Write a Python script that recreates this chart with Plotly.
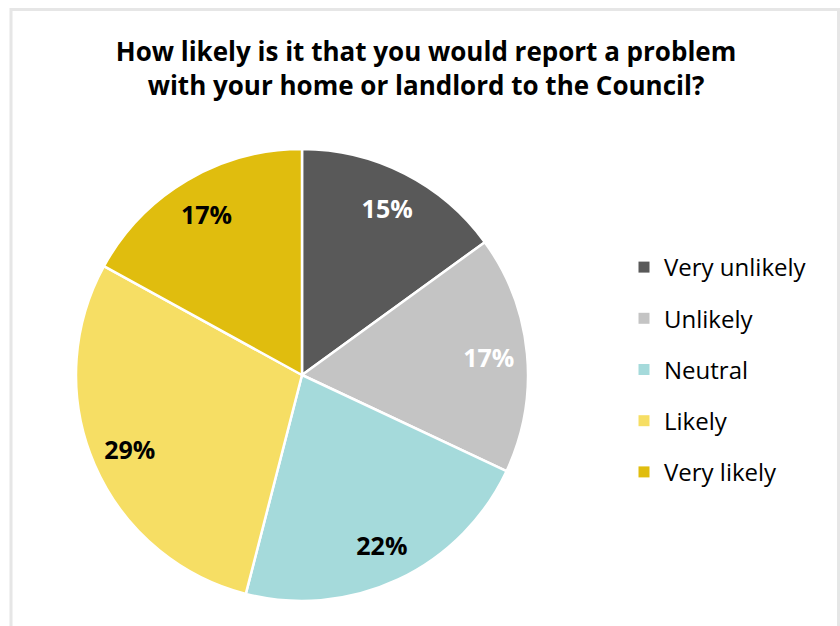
import plotly.graph_objects as go

categories = ["Very unlikely", "Unlikely", "Neutral", "Likely", "Very likely"]
values = [15, 17, 22, 29, 17]
colors = ["#595959", "#C4C4C4", "#A5DADB", "#F6DE64", "#E0BD0E"]
label_colors = ["#FFFFFF", "#FFFFFF", "#000000", "#000000", "#000000"]
title_text = "How likely is it that you would report a problem<br>with your home or landlord to the Council?"

W, H = 840, 626
cx, cy, r = 302, 375, 226
domain = dict(x=[(cx - r) / W, (cx + r) / W], y=[(H - cy - r) / H, (H - cy + r) / H])

fig = go.Figure()
# slices
fig.add_trace(go.Pie(
    labels=categories,
    values=values,
    sort=False,
    direction="clockwise",
    rotation=0,
    marker=dict(colors=colors, line=dict(color="#FFFFFF", width=2.5)),
    textinfo="none",
    showlegend=False,
    domain=domain,
    hoverinfo="label+percent",
))
# percentage labels placed in an outer ring of the same pie
fig.add_trace(go.Pie(
    labels=categories,
    values=values,
    sort=False,
    direction="clockwise",
    rotation=0,
    hole=0.66,
    marker=dict(colors=["rgba(0,0,0,0)"] * len(values), line=dict(width=0)),
    texttemplate="%{percent:.0%}",
    textposition="inside",
    insidetextorientation="horizontal",
    insidetextfont=dict(family="Open Sans", size=25, color=label_colors, weight="bold"),
    showlegend=False,
    domain=domain,
    hoverinfo="skip",
))

for c, col in zip(categories, colors):
    fig.add_trace(go.Scatter(
        x=[None], y=[None], mode="markers", name=c, legendgroup=c,
        marker=dict(symbol="square", size=11, color=col),
        showlegend=True,
    ))

fig.add_shape(type="rect", xref="paper", yref="paper",
              x0=11 / W, x1=838.5 / W, y0=-0.05, y1=1 - 9.5 / H,
              line=dict(color="#E6E6E6", width=3), fillcolor="rgba(0,0,0,0)", layer="below")

fig.update_layout(
    width=W, height=H,
    margin=dict(l=0, r=0, t=0, b=0),
    paper_bgcolor="#FFFFFF", plot_bgcolor="#FFFFFF",
    xaxis=dict(visible=False), yaxis=dict(visible=False),
    title=dict(text=title_text, x=426 / W, xanchor="center", y=1 - 61 / H, yanchor="top",
               font=dict(family="Open Sans", size=26, color="#000000", weight="bold")),
    legend=dict(x=624 / W, xanchor="left", y=1 - 245 / H, yanchor="top",
                font=dict(family="Open Sans", size=24, color="#000000"),
                tracegroupgap=17, itemsizing="trace", bgcolor="rgba(0,0,0,0)"),
    showlegend=True,
)

fig.write_html("out.html")
